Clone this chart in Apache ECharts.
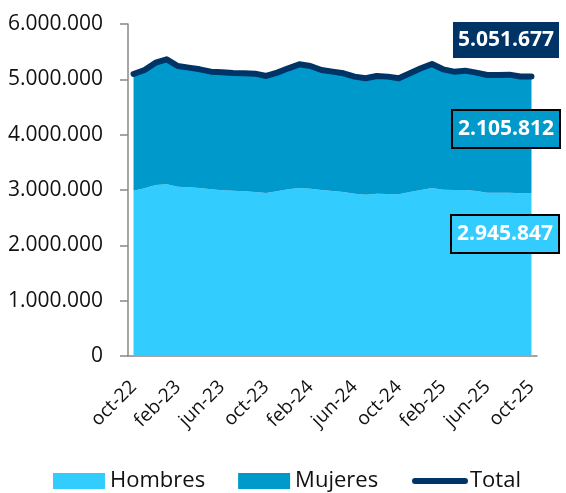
<!DOCTYPE html>
<html>
<head>
<meta charset="utf-8">
<script src="https://cdn.jsdelivr.net/npm/echarts@6/dist/echarts.min.js"></script>
<style>
  html, body { margin: 0; padding: 0; background: #fff; }
  #chart { width: 566px; height: 493px; }
</style>
</head>
<body>
<div id="chart"></div>
<script>
// meses oct-22 .. oct-25
const months = [
  'oct-22', 'nov-22', 'dic-22', 'ene-23', 'feb-23', 'mar-23', 'abr-23', 'may-23', 'jun-23',
  'jul-23', 'ago-23', 'sep-23', 'oct-23', 'nov-23', 'dic-23', 'ene-24', 'feb-24', 'mar-24',
  'abr-24', 'may-24', 'jun-24', 'jul-24', 'ago-24', 'sep-24', 'oct-24', 'nov-24', 'dic-24',
  'ene-25', 'feb-25', 'mar-25', 'abr-25', 'may-25', 'jun-25', 'jul-25', 'ago-25', 'sep-25', 'oct-25'
]

const hombres = [
  2988000, 3030000, 3091000, 3103000, 3060000, 3048000, 3036000, 3012000, 2994000,
  2988000, 2976000, 2964000, 2946000, 2976000, 3012000, 3036000, 3024000, 3000000,
  2982000, 2964000, 2934000, 2916000, 2934000, 2928000, 2922000, 2964000, 3000000,
  3036000, 3006000, 3000000, 3000000, 2982000, 2952000, 2952000, 2952000, 2940000, 2945847
]

const mujeres = [
  2109000, 2139000, 2210000, 2258000, 2181000, 2163000, 2145000, 2127000, 2133000,
  2127000, 2133000, 2139000, 2115000, 2145000, 2187000, 2235000, 2217000, 2169000,
  2157000, 2145000, 2115000, 2103000, 2127000, 2121000, 2097000, 2145000, 2199000,
  2241000, 2175000, 2139000, 2157000, 2139000, 2127000, 2127000, 2133000, 2112000, 2105812
]

const total = [
  5097000, 5169000, 5301000, 5361000, 5241000, 5211000, 5181000, 5139000, 5127000,
  5115000, 5109000, 5103000, 5061000, 5121000, 5199000, 5271000, 5241000, 5169000,
  5139000, 5109000, 5049000, 5019000, 5061000, 5049000, 5019000, 5109000, 5199000,
  5277000, 5181000, 5139000, 5157000, 5121000, 5079000, 5079000, 5085000, 5052000, 5051677
]

const yTicks = [0, 1000000, 2000000, 3000000, 4000000, 5000000, 6000000]

const C_HOM = '#33CCFF'
const C_MUJ = '#0099CC'
const C_TOT = '#003366'
const FONT = '"Open Sans", "Noto Sans", sans-serif'

// 6000000 -> 6.000.000
const fmt = (v) => String(Math.round(v)).replace(/\B(?=(\d{3})+(?!\d))/g, '.')

const last = (arr) => arr[arr.length - 1]

// etiquetas de valor final (cajas a la derecha)
const boxLabel = (text, x, y, bg, border) => ({
  type: 'text',
  x: x,
  y: y,
  z: 100,
  style: {
    text: text,
    fill: '#fff',
    font: 'bold 21px ' + FONT,
    align: 'center',
    verticalAlign: 'middle',
    backgroundColor: bg,
    borderColor: border,
    borderWidth: border ? 2 : 0,
    padding: [5, 5],
    lineHeight: 26,
  },
})

const chart = echarts.init(document.getElementById('chart'))

chart.setOption({
  animation: false,
  textStyle: { fontFamily: FONT },
  grid: { left: 128, right: 29, top: 24, bottom: 137, containLabel: false },
  legend: [
    {
      data: ['Hombres', 'Mujeres'],
      left: 48,
      top: 465,
      icon: 'rect',
      itemWidth: 52,
      itemHeight: 16,
      itemGap: 33,
      textStyle: { color: '#111', fontSize: 22, fontFamily: FONT },
    },
    {
      data: ['Total'],
      left: 407,
      top: 465,
      icon: 'path://M3,0 H53 A3,3 0 0 1 53,6 H3 A3,3 0 0 1 3,0 Z',
      itemWidth: 56,
      itemHeight: 6,
      textStyle: { color: '#111', fontSize: 22, fontFamily: FONT, padding: [0, 0, 0, -3] },
    },
  ],
  xAxis: {
    type: 'category',
    data: months,
    boundaryGap: true,
    axisLine: { lineStyle: { color: '#888', width: 1.5 } },
    axisTick: { interval: 3, length: 6, lineStyle: { color: '#888', width: 1.5 } },
    axisLabel: {
      interval: 3,
      rotate: 45,
      margin: 28,
      color: '#111',
      fontSize: 19,
      fontFamily: FONT,
    },
  },
  yAxis: {
    type: 'value',
    min: yTicks[0],
    max: yTicks[yTicks.length - 1],
    interval: yTicks[1] - yTicks[0],
    axisLine: { show: true, lineStyle: { color: '#888', width: 1.5 } },
    axisTick: { show: true, length: 8, lineStyle: { color: '#888', width: 1.5 } },
    splitLine: { show: false },
    axisLabel: {
      color: '#111',
      fontSize: 21,
      fontFamily: FONT,
      margin: 25,
      formatter: (v) => fmt(v),
    },
  },
  series: [
    {
      name: 'Hombres',
      type: 'line',
      stack: 'ocupados',
      data: hombres,
      symbol: 'none',
      lineStyle: { width: 0 },
      itemStyle: { color: C_HOM },
      areaStyle: { color: C_HOM, opacity: 1 },
    },
    {
      name: 'Mujeres',
      type: 'line',
      stack: 'ocupados',
      data: mujeres,
      symbol: 'none',
      lineStyle: { width: 0 },
      itemStyle: { color: C_MUJ },
      areaStyle: { color: C_MUJ, opacity: 1 },
    },
    {
      name: 'Total',
      type: 'line',
      data: total,
      symbol: 'none',
      z: 5,
      itemStyle: { color: C_TOT },
      lineStyle: { color: C_TOT, width: 6, cap: 'round', join: 'round' },
    },
  ],
  graphic: [
    boxLabel(fmt(last(total)), 506, 40, C_TOT, null),
    boxLabel(fmt(last(mujeres)), 506, 129, C_MUJ, '#000'),
    boxLabel(fmt(last(hombres)), 505, 234, C_HOM, '#000'),
  ],
})
</script>
</body>
</html>
